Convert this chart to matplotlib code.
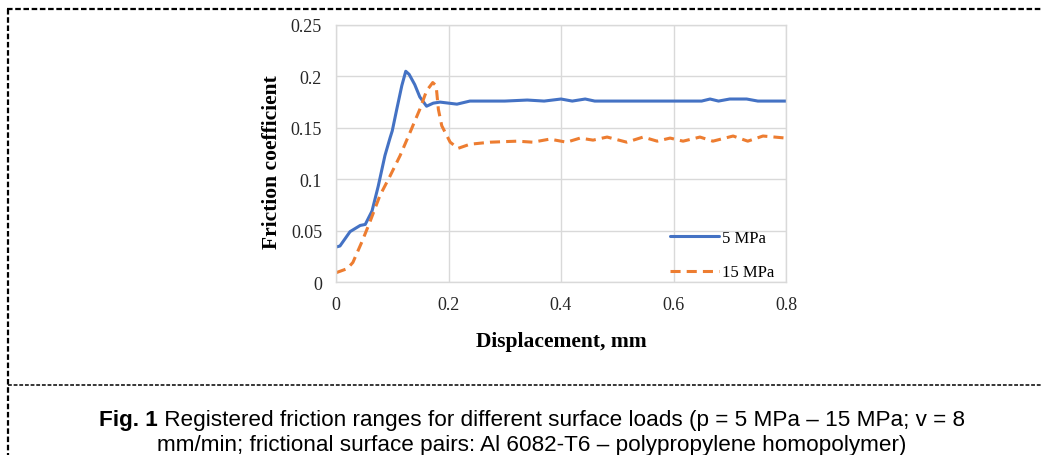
import matplotlib
matplotlib.use("Agg")
import matplotlib.pyplot as plt
from matplotlib.lines import Line2D

# 5 MPa series (blue, solid)
disp_5mpa = [0, 0.007, 0.025, 0.043, 0.052, 0.064, 0.075, 0.087, 0.096, 0.100,
             0.108, 0.117, 0.124, 0.130, 0.140, 0.149, 0.161, 0.173, 0.185, 0.215,
             0.238, 0.26, 0.30, 0.34, 0.37, 0.40, 0.42, 0.443, 0.46, 0.50,
             0.55, 0.60, 0.65, 0.665, 0.68, 0.70, 0.73, 0.75, 0.80]
cof_5mpa = [0.034, 0.035, 0.049, 0.055, 0.056, 0.069, 0.093, 0.123, 0.140, 0.147,
            0.168, 0.191, 0.205, 0.202, 0.192, 0.180, 0.171, 0.174, 0.175, 0.173,
            0.176, 0.176, 0.176, 0.177, 0.176, 0.178, 0.176, 0.178, 0.176, 0.176,
            0.176, 0.176, 0.176, 0.178, 0.176, 0.178, 0.178, 0.176, 0.176]

# 15 MPa series (orange, dashed)
disp_15mpa = [0, 0.02, 0.03, 0.046, 0.060, 0.078, 0.096, 0.114, 0.132, 0.149,
              0.161, 0.172, 0.178, 0.182, 0.188, 0.203, 0.217, 0.238, 0.274, 0.322,
              0.35, 0.38, 0.41, 0.434, 0.457, 0.482, 0.517, 0.546, 0.571, 0.594,
              0.617, 0.647, 0.670, 0.706, 0.732, 0.759, 0.80]
cof_15mpa = [0.009, 0.013, 0.019, 0.039, 0.058, 0.084, 0.103, 0.123, 0.146, 0.168,
             0.186, 0.194, 0.191, 0.168, 0.152, 0.136, 0.130, 0.134, 0.136, 0.137,
             0.136, 0.139, 0.136, 0.140, 0.138, 0.141, 0.136, 0.141, 0.137, 0.140,
             0.137, 0.141, 0.137, 0.142, 0.137, 0.142, 0.140]

x_ticks = [0, 0.2, 0.4, 0.6, 0.8]
x_tick_labels = ["0", "0.2", "0.4", "0.6", "0.8"]
y_ticks = [0, 0.05, 0.1, 0.15, 0.2, 0.25]
y_tick_labels = ["0", "0.05", "0.1", "0.15", "0.2", "0.25"]

series_labels = ["5 MPa", "15 MPa"]
caption_bold = "Fig. 1"
caption_line1 = " Registered friction ranges for different surface loads (p = 5 MPa \u2013 15 MPa; v = 8"
caption_line2 = "mm/min; frictional surface pairs: Al 6082-T6 \u2013 polypropylene homopolymer)"

W, H = 1041, 456
fig = plt.figure(figsize=(W / 100, H / 100), dpi=100)


def fx(px):
    return px / W


def fy(py):
    return 1 - py / H


ax = fig.add_axes([fx(336), fy(283), fx(786) - fx(336), fy(26) - fy(283)])

serif = ["Liberation Serif", "DejaVu Serif"]
grid_color = "#d9d9d9"

ax.plot(disp_5mpa, cof_5mpa, color="#4472C4", linewidth=2.2,
        label=series_labels[0], solid_capstyle="round")
ax.plot(disp_15mpa, cof_15mpa, color="#ED7D31", linewidth=2.2,
        linestyle=(0, (3.3, 2.0)), label=series_labels[1])

ax.set_xlim(0, 0.8)
ax.set_ylim(0, 0.25)
ax.set_xticks(x_ticks)
ax.set_xticklabels(x_tick_labels, fontfamily=serif, fontsize=13, color="#262626")
ax.set_yticks(y_ticks)
ax.set_yticklabels(y_tick_labels, fontfamily=serif, fontsize=13, color="#262626")
ax.tick_params(length=0, pad=10)
ax.grid(True, color=grid_color, linewidth=1.0)
ax.set_axisbelow(True)
for spine in ax.spines.values():
    spine.set_color(grid_color)
    spine.set_linewidth(1.0)

ax.set_xlabel("Displacement, mm", fontfamily=serif, fontsize=15.5,
              fontweight="bold", labelpad=13)
ax.set_ylabel("Friction coefficient", fontfamily=serif, fontsize=15.5,
              fontweight="bold")
ax.yaxis.set_label_coords(-0.12, 0.469)

leg = ax.legend(loc="upper left", bbox_to_anchor=(fx(670), fy(231)),
                bbox_transform=fig.transFigure, frameon=False,
                prop={"family": serif, "size": 12}, handlelength=2.95,
                handletextpad=0.2, labelspacing=1.1, borderpad=0,
                borderaxespad=0)

# dashed frame around the figure and caption
frame_kw = dict(color="black", linewidth=1.6, linestyle=(0, (2.5, 1.2)))
fig.add_artist(Line2D([fx(7), 1.0], [fy(10), fy(10)], **frame_kw))
fig.add_artist(Line2D([fx(8), fx(8)], [fy(10), 0.0], **frame_kw))
fig.add_artist(Line2D([fx(8), 1.0], [fy(386), fy(386)],
                      color="black", linewidth=1.1, linestyle=(0, (2.5, 1.2))))

# caption
cap_font = ["Liberation Sans", "DejaVu Sans"]
cap_size = 16.2
t_bold = fig.text(0, fy(421), caption_bold, fontfamily=cap_font, fontsize=cap_size,
                  fontweight="bold", ha="left", va="center")
t_rest = fig.text(0, fy(421), caption_line1, fontfamily=cap_font, fontsize=cap_size,
                  ha="left", va="center")
renderer = fig.canvas.get_renderer()
w_bold = t_bold.get_window_extent(renderer).width
w_rest = t_rest.get_window_extent(renderer).width
start = 532 - (w_bold + w_rest) / 2
t_bold.set_x(fx(start))
t_rest.set_x(fx(start + w_bold))
fig.text(fx(532), fy(446), caption_line2, fontfamily=cap_font, fontsize=cap_size,
         ha="center", va="center")

fig.savefig("out.png", dpi=100)
